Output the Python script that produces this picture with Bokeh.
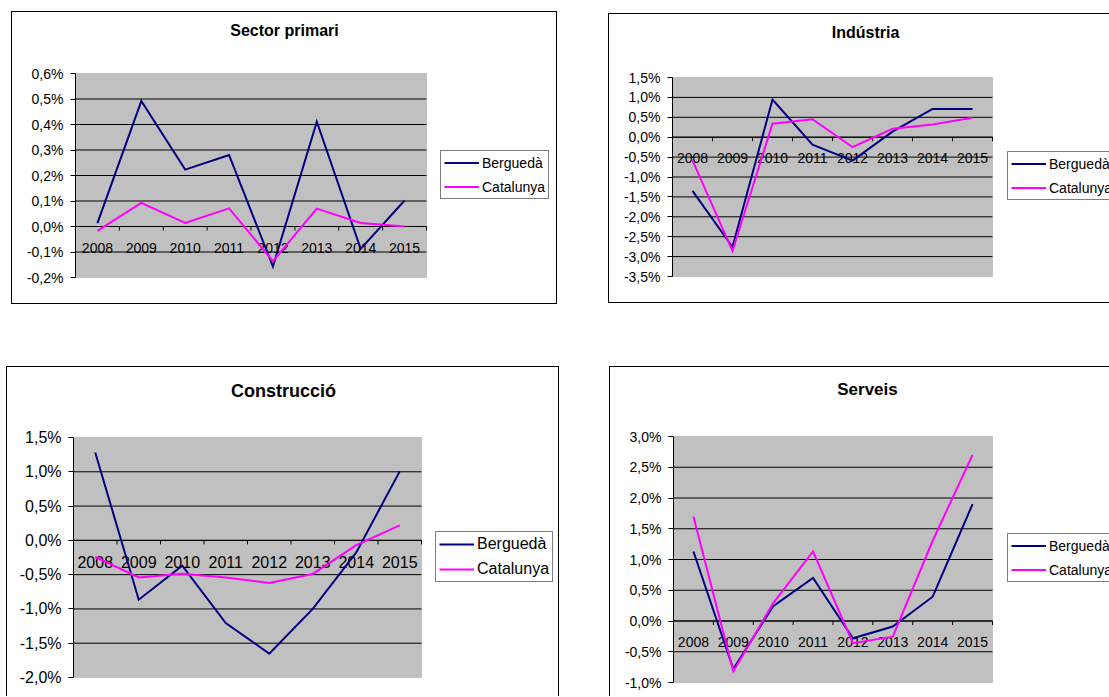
import math
from bokeh.plotting import figure
from bokeh.layouts import column, row
from bokeh.models import (Range1d, FixedTicker, CustomJSTickFormatter, Legend,
                          LegendItem, Spacer, BoxAnnotation, Label)
from bokeh.core.properties import value
from bokeh.embed import file_html
from bokeh.resources import INLINE

# ---------------- data (percent) ----------------
years = [2008, 2009, 2010, 2011, 2012, 2013, 2014, 2015]
year_labels = ["2008", "2009", "2010", "2011", "2012", "2013", "2014", "2015"]
series_names = ["Berguedà", "Catalunya"]

primari_bergueda = [0.013, 0.492, 0.223, 0.280, -0.157, 0.411, -0.088, 0.102]
primari_catalunya = [-0.017, 0.093, 0.014, 0.071, -0.136, 0.070, 0.014, 0.000]
primari_ticks = [-0.2, -0.1, 0.0, 0.1, 0.2, 0.3, 0.4, 0.5, 0.6]

industria_bergueda = [-1.35, -2.76, 0.945, -0.19, -0.59, 0.14, 0.71, 0.71]
industria_catalunya = [-0.58, -2.86, 0.34, 0.45, -0.25, 0.21, 0.32, 0.49]
industria_ticks = [-3.5, -3.0, -2.5, -2.0, -1.5, -1.0, -0.5, 0.0, 0.5, 1.0, 1.5]

construccio_bergueda = [1.28, -0.865, -0.37, -1.205, -1.652, -1.0, -0.175, 1.006]
construccio_catalunya = [-0.243, -0.54, -0.486, -0.54, -0.622, -0.49, -0.07, 0.219]
construccio_ticks = [-2.0, -1.5, -1.0, -0.5, 0.0, 0.5, 1.0, 1.5]

serveis_bergueda = [1.13, -0.78, 0.24, 0.70, -0.28, -0.09, 0.395, 1.90]
serveis_catalunya = [1.70, -0.82, 0.29, 1.13, -0.36, -0.255, 1.305, 2.70]
serveis_ticks = [-1.0, -0.5, 0.0, 0.5, 1.0, 1.5, 2.0, 2.5, 3.0]

titles = ["Sector primari", "Indústria", "Construcció", "Serveis"]

NAVY = "#000080"
MAGENTA = "#FF00FF"
FONT = "Liberation Sans"
BLACK = {"background-color": "black"}


def make_panel(title, berg, cat, ticks, W, H, area, title_pos, title_size,
               font_size, label_off, legend_loc, leg):
    # area = (left, right, top, bottom) of the plot area in canvas pixels
    L, R, T, B = area
    x0, x1 = years[0] - 0.5, years[-1] + 0.5
    y0, y1 = ticks[0], ticks[-1]
    ppx = (R - L) / (x1 - x0)
    ppy = (B - T) / (y1 - y0)
    p = figure(width=W, height=H,
               x_range=Range1d(x0, x1 + (W - R) / ppx),
               y_range=Range1d(y0 - (H - B) / ppy, y1 + T / ppy),
               x_axis_type=None, output_backend="svg", toolbar_location=None,
               min_border_left=L, min_border_right=0, min_border_top=0, min_border_bottom=0)
    p.title.visible = False
    p.background_fill_color = "white"
    p.border_fill_color = "white"
    p.outline_line_color = None
    p.ygrid.visible = False

    # grey plot area
    p.add_layout(BoxAnnotation(left=x0, right=x1, bottom=y0, top=y1, fill_color="#C0C0C0",
                               fill_alpha=1, line_color="#808080", line_width=1,
                               level="underlay"))

    # y axis
    ax = p.yaxis[0]
    ax.ticker = FixedTicker(ticks=ticks)
    ax.bounds = (y0, y1)
    ax.formatter = CustomJSTickFormatter(code="return tick.toFixed(1).replace('.', ',') + '%';")
    ax.axis_line_color = "black"
    ax.major_tick_line_color = "black"
    ax.major_tick_in = 0
    ax.major_tick_out = 5
    ax.minor_tick_line_color = None
    ax.major_label_standoff = 7
    ax.major_label_text_font = FONT
    ax.major_label_text_font_size = font_size
    ax.major_label_text_color = "black"

    # horizontal gridlines limited to the plot area
    inner = ticks[1:-1]
    p.segment(x0=[x0] * len(inner), x1=[x1] * len(inner), y0=inner, y1=inner,
              line_color="black", line_width=1)

    # category axis crossing at zero
    p.segment(x0=[x0], x1=[x1], y0=[0], y1=[0], line_color="black", line_width=1)
    bounds = [x0 + i for i in range(len(years) + 1)]
    p.ray(x=bounds, y=[0] * len(bounds), length=4, length_units="screen",
          angle=-math.pi / 2, line_color="black", line_width=1)
    p.text(x=years, y=[0] * len(years), text=year_labels, text_align="center",
           text_baseline="middle", y_offset=label_off, text_font=value(FONT),
           text_font_size=font_size, text_color="black")

    r1 = p.line(years, berg, line_color=NAVY, line_width=2, line_join="miter")
    r2 = p.line(years, cat, line_color=MAGENTA, line_width=2, line_join="miter")

    legend = Legend(items=[LegendItem(label=series_names[0], renderers=[r1]),
                           LegendItem(label=series_names[1], renderers=[r2])],
                    location=legend_loc)
    legend.margin = 0
    legend.padding = leg[0]
    legend.glyph_height = leg[1]
    legend.label_height = leg[1]
    legend.spacing = leg[2]
    legend.glyph_width = 35
    legend.label_standoff = 3
    legend.border_line_color = "black"
    legend.border_line_width = 1
    legend.background_fill_color = "white"
    legend.background_fill_alpha = 1
    legend.label_text_font = FONT
    legend.label_text_font_size = font_size
    legend.label_text_color = "black"
    p.add_layout(legend)

    p.add_layout(Label(x=title_pos[0], y=title_pos[1], x_units="canvas", y_units="canvas",
                       text=title, text_align="center", text_baseline="middle",
                       text_font=FONT, text_font_style="bold", text_font_size=title_size,
                       text_color="black"))
    return p


def boxed(p, w, h, right=True, bottom=True):
    outer_w = w + 1 + (1 if right else 0)
    mid = [Spacer(width=1, height=h, styles=BLACK), p]
    if right:
        mid.append(Spacer(width=1, height=h, styles=BLACK))
    parts = [Spacer(width=outer_w, height=1, styles=BLACK), row(*mid)]
    if bottom:
        parts.append(Spacer(width=outer_w, height=1, styles=BLACK))
    return column(*parts)


p1 = make_panel(titles[0], primari_bergueda, primari_catalunya, primari_ticks,
                544, 291, (63, 414, 61, 265), (272, 18), "16px", "14px", 21,
                (365, 104), (3, 17, 7))
p2 = make_panel(titles[1], industria_bergueda, industria_catalunya, industria_ticks,
                500, 288, (63, 383, 63, 262), (256, 18), "16px", "14px", 21,
                (335, 102), (3, 17, 7))
p3 = make_panel(titles[2], construccio_bergueda, construccio_catalunya, construccio_ticks,
                551, 329, (66, 414, 70, 310), (276, 23), "18px", "16px", 22,
                (362, 114), (3, 18, 7))
p4 = make_panel(titles[3], serveis_bergueda, serveis_catalunya, serveis_ticks,
                499, 329, (63, 382, 69, 315), (257, 22), "17px", "14px", 21,
                (334, 114), (3, 17, 7))

row1 = row(Spacer(width=11, height=1),
           column(Spacer(width=1, height=11), boxed(p1, 544, 291)),
           Spacer(width=51, height=1),
           column(Spacer(width=1, height=13), boxed(p2, 500, 288, right=False)))
row2 = row(Spacer(width=6, height=1),
           boxed(p3, 551, 329, bottom=False),
           Spacer(width=50, height=1),
           boxed(p4, 499, 329, right=False, bottom=False))
layout = column(row1, Spacer(width=1, height=62), row2)
open("out.html", "w").write(file_html(layout, INLINE))
